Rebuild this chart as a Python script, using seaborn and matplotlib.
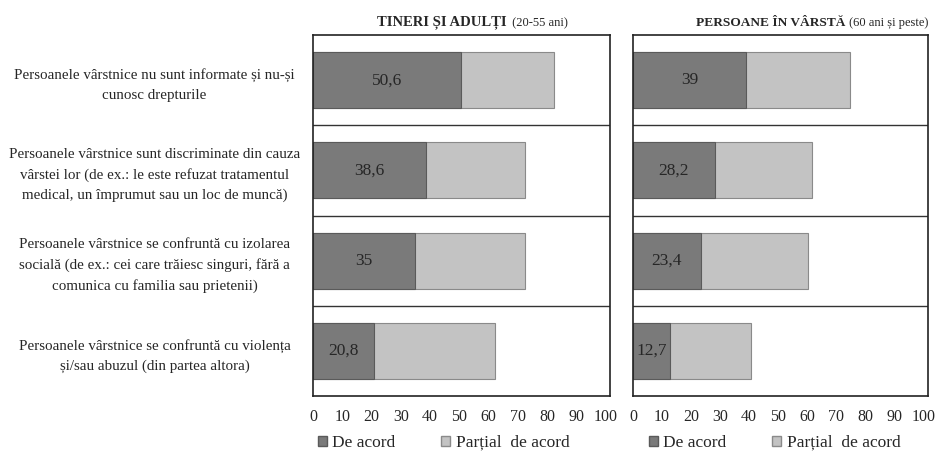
import pandas as pd
import matplotlib.pyplot as plt
import seaborn as sns
from matplotlib.patches import Patch

categorii = [
    "Persoanele vârstnice nu sunt informate și nu-și\ncunosc drepturile",
    "Persoanele vârstnice sunt discriminate din cauza\nvârstei lor (de ex.: le este refuzat tratamentul\nmedical, un împrumut sau un loc de muncă)",
    "Persoanele vârstnice se confruntă cu izolarea\nsocială (de ex.: cei care trăiesc singuri, fără a\ncomunica cu familia sau prietenii)",
    "Persoanele vârstnice se confruntă cu violența\nși/sau abuzul (din partea altora)",
]

# Tineri si adulti (20-55 ani)
tineri_acord = [50.6, 38.6, 35.0, 20.8]
tineri_partial = [31.9, 33.7, 37.5, 41.3]

# Persoane in varsta (60 ani si peste)
varstnici_acord = [39.0, 28.2, 23.4, 12.7]
varstnici_partial = [35.5, 33.3, 36.9, 27.9]

titluri_bold = ["TINERI ȘI ADULȚI", "PERSOANE ÎN VÂRSTĂ"]
titluri_normal = ["  (20-55 ani)", " (60 ani și peste)"]
serii = ["De acord", "Parțial  de acord"]

culoare_acord = "#7a7a7a"
culoare_partial = "#c3c3c3"

sns.set_style("white")
plt.rcParams['font.family'] = ['Liberation Serif', 'DejaVu Serif']

fig = plt.figure(figsize=(9.39, 4.53), dpi=100)
ax1 = fig.add_axes([0.3333, 0.1258, 0.3163, 0.7969])
ax2 = fig.add_axes([0.6741, 0.1258, 0.3142, 0.7969])

panouri = [(ax1, tineri_acord, tineri_partial), (ax2, varstnici_acord, varstnici_partial)]

for i, (ax, acord, partial) in enumerate(panouri):
    df = pd.DataFrame({
        "categorie": categorii,
        "acord": acord,
        "total": [a + p for a, p in zip(acord, partial)],
    })
    sns.barplot(data=df, y="categorie", x="total", color=culoare_partial,
                orient="h", width=0.62, edgecolor="#8a8a8a", linewidth=0.8,
                saturation=1, ax=ax)
    sns.barplot(data=df, y="categorie", x="acord", color=culoare_acord,
                orient="h", width=0.62, edgecolor="#5a5a5a", linewidth=0.8,
                saturation=1, ax=ax)

    for j, v in enumerate(acord):
        eticheta = f"{v:.1f}".replace(".", ",").replace(",0", "")
        ax.text(v / 2, j, eticheta, ha="center", va="center", fontsize=12.5)

    ax.set_xlim(0, 101.5)
    ax.set_ylim(3.5, -0.5)
    ax.set_xticks(range(0, 101, 10))
    ax.tick_params(axis="x", length=0, labelsize=11.5, pad=9)
    ax.set_xlabel("")
    ax.set_ylabel("")
    for y in [0.5, 1.5, 2.5]:
        ax.axhline(y, color="#333333", linewidth=1.0)
    for s in ax.spines.values():
        s.set_color("#222222")
        s.set_linewidth(1.2)

    if i == 0:
        ax.set_yticks(range(len(categorii)))
        ax.set_yticklabels(categorii, fontsize=10.8, ha="center", linespacing=1.65)
        ax.tick_params(axis="y", length=0, pad=114)
    else:
        ax.set_yticks([])

    handles = [Patch(facecolor=culoare_acord, edgecolor="#5a5a5a"),
               Patch(facecolor=culoare_partial, edgecolor="#8a8a8a")]
    ax.legend(handles, serii, loc="center left",
              bbox_to_anchor=(-0.037 if i == 0 else 0.0, -0.13),
              ncol=2, frameon=False, fontsize=12.5, handlelength=0.55,
              handleheight=0.55, handletextpad=0.3, columnspacing=2.6)

# titluri cu parte bold si parte normala
for ax, tb, tn, fb in [(ax1, titluri_bold[0], titluri_normal[0], 10.5),
                       (ax2, titluri_bold[1], titluri_normal[1], 9.6)]:
    t = ax.text(0.215, 1.017, tb, transform=ax.transAxes, fontsize=fb,
                fontweight="bold", ha="left", va="bottom")
    fig.canvas.draw()
    bb = t.get_window_extent().transformed(ax.transAxes.inverted())
    ax.text(bb.x1, 1.017, tn, transform=ax.transAxes, fontsize=9,
            ha="left", va="bottom")

fig.savefig("out.png", dpi=100)
